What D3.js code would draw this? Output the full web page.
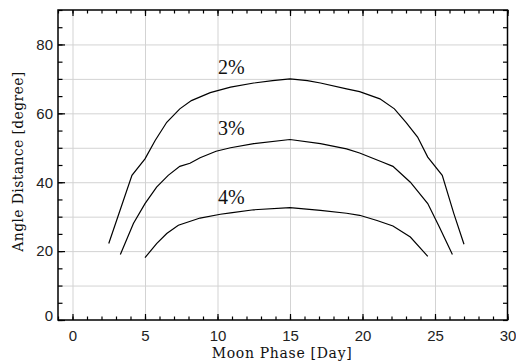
<!DOCTYPE html>
<html lang="en">
<head>
<meta charset="utf-8">
<title>Angle distance vs moon phase</title>
<script src="https://d3js.org/d3.v7.min.js"></script>
<style>
body { margin: 0; background: #fff; }
.grid line { stroke: #d3d3d3; stroke-width: 1px; }
.grid path { display: none; }
.tick text { font-family: "Liberation Sans", Arial, sans-serif; font-size: 15px; fill: #222; }
.ax path { display: none; }
.ax line { stroke: #000; stroke-width: 1.2px; }
.curve { fill: none; stroke: #000; stroke-width: 1.2px; }
.lbl { font-family: "Liberation Serif", "Times New Roman", serif; font-size: 20px; fill: #111; }
.title { font-family: "DejaVu Serif", serif; font-size: 14px; fill: #111; }
</style>
</head>
<body>
<script>
// data
var days2 = [2.5, 4.1, 5.0, 5.7, 6.5, 7.4, 8.2, 9.5, 10.9, 12.5, 13.8, 15.0, 16.2, 17.1, 18.9, 19.8, 21.2, 22.2, 23.0, 23.8, 24.5, 25.5, 26.3, 27.0];
var vals2 = [22.2, 42.0, 46.8, 52.1, 57.4, 61.3, 63.7, 66.0, 67.6, 68.8, 69.5, 70.0, 69.5, 68.8, 67.1, 66.3, 64.2, 61.3, 57.4, 53.1, 47.3, 42.0, 30.9, 22.0];

var days3 = [3.3, 4.2, 5.0, 5.8, 6.6, 7.4, 8.1, 8.8, 9.9, 10.9, 12.5, 15.0, 17.1, 18.9, 19.8, 21.4, 22.1, 23.3, 24.5, 25.3, 26.2];
var vals3 = [19.0, 28.0, 33.8, 38.6, 42.0, 44.6, 45.5, 47.1, 49.0, 50.0, 51.2, 52.4, 51.2, 49.7, 48.5, 45.8, 44.6, 40.0, 33.8, 27.0, 19.0];

var days4 = [5.0, 5.8, 6.5, 7.3, 8.8, 10.2, 10.9, 12.5, 15.0, 17.1, 18.9, 19.8, 21.0, 22.1, 23.3, 24.5];
var vals4 = [18.1, 22.2, 25.1, 27.5, 29.6, 30.7, 31.1, 32.0, 32.6, 31.8, 31.0, 30.4, 28.9, 27.3, 24.1, 18.5];

var seriesNames = ["2%", "3%", "4%"];
var labelDay = 10;
var labelVals = [71.5, 53.6, 33.6];

var xTicks = [0, 5, 10, 15, 20, 25, 30];
var yTicks = [0, 20, 40, 60, 80];

var width = 516, height = 362;
var pL = 58, pR = 507.5, pT = 10, pB = 320;

var svg = d3.select("body").append("svg").attr("width", width).attr("height", height);

var x = d3.scaleLinear().domain([-1, 30]).range([pL, pR]);
var y = d3.scaleLinear().domain([0, 90]).range([pB, pT]);

// grid
svg.append("g").attr("class", "grid")
  .attr("transform", "translate(0," + pB + ")")
  .call(d3.axisBottom(x).tickValues(d3.range(0, 26, 5)).tickSize(-(pB - pT)).tickFormat(""));
svg.append("g").attr("class", "grid")
  .attr("transform", "translate(" + pL + ",0)")
  .call(d3.axisLeft(y).tickValues(d3.range(10, 81, 10)).tickSize(-(pR - pL)).tickFormat(""));

// bottom axis
svg.append("g").attr("class", "ax")
  .attr("transform", "translate(0," + pB + ")")
  .call(d3.axisBottom(x).tickValues(d3.range(-1, 31)).tickSize(-3.5).tickFormat(""));
svg.append("g").attr("class", "ax")
  .attr("transform", "translate(0," + pB + ")")
  .call(d3.axisBottom(x).tickValues(xTicks).tickSize(-6).tickPadding(10.5));
// top axis
svg.append("g").attr("class", "ax")
  .attr("transform", "translate(0," + pT + ")")
  .call(d3.axisTop(x).tickValues(d3.range(-1, 31)).tickSize(-3.5).tickFormat(""));
svg.append("g").attr("class", "ax")
  .attr("transform", "translate(0," + pT + ")")
  .call(d3.axisTop(x).tickValues(xTicks).tickSize(-6).tickFormat(""));

// left axis
svg.append("g").attr("class", "ax")
  .attr("transform", "translate(" + pL + ",0)")
  .call(d3.axisLeft(y).tickValues(d3.range(0, 91, 5)).tickSize(-4.5).tickFormat(""));
var yl = svg.append("g").attr("class", "ax")
  .attr("transform", "translate(" + pL + ",0)")
  .call(d3.axisLeft(y).tickValues(yTicks).tickSize(-7).tickPadding(5));
yl.selectAll(".tick text").filter(function(d) { return d === 0; }).attr("dy", "0.05em");
// right axis
svg.append("g").attr("class", "ax")
  .attr("transform", "translate(" + pR + ",0)")
  .call(d3.axisRight(y).tickValues(d3.range(0, 91, 5)).tickSize(-4.5).tickFormat(""));

// frame
svg.append("rect")
  .attr("x", pL).attr("y", pT)
  .attr("width", pR - pL).attr("height", pB - pT)
  .attr("fill", "none").attr("stroke", "#000").attr("stroke-width", 1.5);

// curves
var line = d3.line().x(function(d) { return x(d[0]); }).y(function(d) { return y(d[1]); });
var allDays = [days2, days3, days4];
var allVals = [vals2, vals3, vals4];
allDays.forEach(function(ds, i) {
  svg.append("path").attr("class", "curve")
    .attr("d", line(d3.zip(ds, allVals[i])));
});

// curve labels
svg.selectAll(".lbl").data(seriesNames).enter().append("text")
  .attr("class", "lbl")
  .attr("x", x(labelDay) + 0.5)
  .attr("y", function(d, i) { return y(labelVals[i]); })
  .text(function(d) { return d; });

// axis titles
svg.append("text").attr("class", "title")
  .attr("x", 281.7).attr("y", 358)
  .attr("text-anchor", "middle")
  .attr("textLength", 140).attr("lengthAdjust", "spacing")
  .text("Moon Phase [Day]");
svg.append("text").attr("class", "title")
  .attr("transform", "translate(23,161.7) rotate(-90)")
  .attr("text-anchor", "middle")
  .attr("textLength", 180).attr("lengthAdjust", "spacing")
  .text("Angle Distance [degree]");
</script>
</body>
</html>
